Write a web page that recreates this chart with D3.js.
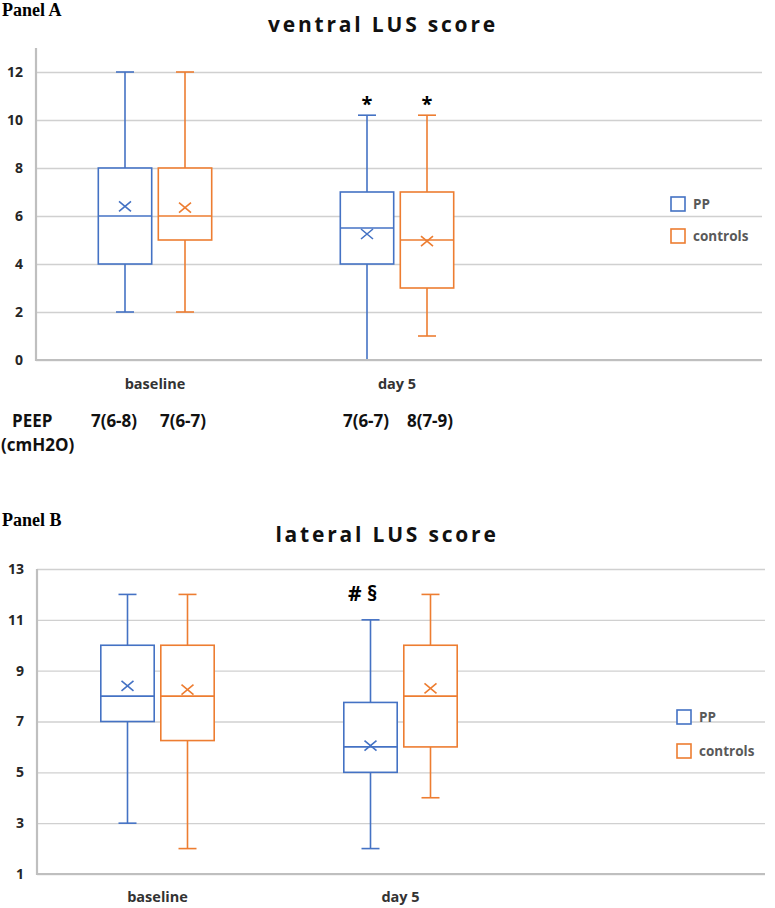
<!DOCTYPE html>
<html><head><meta charset="utf-8">
<script src="https://cdn.jsdelivr.net/npm/d3@7"></script>
<style>body{margin:0;background:#fff}svg{display:block}</style>
</head><body>
<svg id="c" width="775" height="908"></svg>
<script>
// ---- data ----
const categories = ["baseline", "day 5", ""];
const seriesNames = ["PP", "controls"];
// [min, q1, median, q3, max, mean] per category
const ventralPP = [[2, 4, 6, 8, 12, 6.4], [0, 4, 5.5, 7, 10.2, 5.25]];
const ventralControls = [[2, 5, 6, 8, 12, 6.35], [1, 3, 5, 7, 10.2, 4.95]];
const lateralPP = [[3, 7, 8, 10, 12, 8.4], [2, 5, 6, 7.75, 11, 6.05]];
const lateralControls = [[2, 6.25, 8, 10, 12, 8.25], [4, 6, 8, 10, 12, 8.3]];
const ventralTicks = [0, 2, 4, 6, 8, 10, 12];
const lateralTicks = [1, 3, 5, 7, 9, 11, 13];
const peepLabels = ["7(6-8)", "7(6-7)", "7(6-7)", "8(7-9)"];
const ventralMarks = [["*", 0, 1], ["*", 1, 1]]; // [text, series, category]
const lateralMarks = [["# §", 0, 1]];

const colors = {PP: "#4472C4", controls: "#ED7D31"};
const svg = d3.select("#c");
const sans = "'Open Sans', 'DejaVu Sans', sans-serif";

function panel(o) {
  const g = svg.append("g");
  const x = d3.scaleBand().domain(categories).range([o.x0, o.x1]);
  const inner = d3.scaleBand().domain(seriesNames).range([x.bandwidth()/2 - 60, x.bandwidth()/2 + 60]);
  const y = d3.scaleLinear().domain(o.domain).range([o.yb, o.yt]);

  // panel label
  g.append("text").attr("x", 2).attr("y", o.panelY).text(o.panelLabel)
    .attr("font-family", "'Liberation Serif', 'Times New Roman', serif").attr("font-weight", "bold")
    .attr("font-size", 18).attr("fill", "#000");
  // title
  g.append("text").attr("x", o.titleX).attr("y", o.titleY).attr("text-anchor", "middle")
    .text(o.title).attr("font-family", sans).attr("font-weight", "bold")
    .attr("font-size", 21).attr("letter-spacing", 2.8).attr("fill", "#111");

  // y axis + gridlines
  const ax = g.append("g").attr("transform", `translate(${o.gx0},0)`)
    .call(d3.axisLeft(y).tickValues(o.ticks).tickSize(-(o.gx1 - o.gx0)).tickPadding(13));
  ax.select(".domain").remove();
  ax.selectAll(".tick line").attr("stroke", "#D0D0D0").attr("stroke-width", 1.3);
  ax.selectAll(".tick text").attr("font-family", sans).attr("font-weight", "bold")
    .attr("font-size", 14).attr("fill", "#262626");

  // boxes
  const data = [[seriesNames[0], o.pp], [seriesNames[1], o.ctl]];
  data.forEach(([name, vals]) => {
    vals.forEach((v, ci) => {
      const [mn, q1, md, q3, mx, mean] = v;
      const cx = x(categories[ci]) + inner(name) + inner.bandwidth()/2;
      const bw = inner.bandwidth() * 0.89;
      const col = colors[name];
      const b = g.append("g").attr("stroke", col).attr("fill", "none").attr("stroke-width", 1.6);
      b.append("line").attr("x1", cx).attr("x2", cx).attr("y1", y(mx)).attr("y2", y(q3));
      b.append("line").attr("x1", cx).attr("x2", cx).attr("y1", y(q1)).attr("y2", y(mn));
      b.append("line").attr("x1", cx - 9).attr("x2", cx + 9).attr("y1", y(mx)).attr("y2", y(mx));
      b.append("line").attr("x1", cx - 9).attr("x2", cx + 9).attr("y1", y(mn)).attr("y2", y(mn));
      b.append("rect").attr("x", cx - bw/2).attr("width", bw).attr("y", y(q3)).attr("height", y(q1) - y(q3)).attr("fill", "#fff");
      b.append("line").attr("x1", cx - bw/2).attr("x2", cx + bw/2).attr("y1", y(md)).attr("y2", y(md));
      const my = y(mean);
      b.append("path").attr("d", `M${cx-6},${my-5}L${cx+6},${my+5}M${cx-6},${my+5}L${cx+6},${my-5}`);
    });
  });

  // axis lines
  g.append("line").attr("x1", o.gx0).attr("x2", o.gx0).attr("y1", o.axisTop).attr("y2", o.yb + 1)
    .attr("stroke", "#BFBFBF").attr("stroke-width", 2.2);
  g.append("line").attr("x1", o.gx0).attr("x2", o.gx1).attr("y1", o.yb).attr("y2", o.yb)
    .attr("stroke", "#BFBFBF").attr("stroke-width", 2.2);

  // category labels
  categories.forEach(c => {
    if (!c) return;
    g.append("text").attr("x", x(c) + x.bandwidth()/2).attr("y", o.yb + o.catDy)
      .attr("text-anchor", "middle").text(c).attr("font-family", sans)
      .attr("font-weight", "bold").attr("font-size", 14.5).attr("fill", "#333");
  });

  // significance marks
  o.marks.forEach(([t, si, ci]) => {
    const vals = si === 0 ? o.pp : o.ctl;
    const cx = x(categories[ci]) + inner(seriesNames[si]) + inner.bandwidth()/2;
    g.append("text").attr("x", cx + (o.markDx || 0)).attr("y", y(vals[ci][4]) + o.markDy)
      .attr("text-anchor", "middle").text(t).attr("font-family", o.markFont || sans)
      .attr("font-weight", "bold").attr("font-size", o.markSize || 20).attr("fill", "#000");
  });

  // legend
  seriesNames.forEach((n, i) => {
    const ly = o.legY + i * o.legStep;
    g.append("rect").attr("x", o.legX).attr("y", ly - 7).attr("width", 14).attr("height", 14)
      .attr("fill", "#fff").attr("stroke", colors[n]).attr("stroke-width", 1.6);
    g.append("text").attr("x", o.legX + 22).attr("y", ly + 5).text(n).attr("font-family", sans)
      .attr("font-weight", "bold").attr("font-size", 13.5).attr("fill", "#595959");
  });
  return {x, inner};
}

const pA = panel({
  panelLabel: "Panel A", panelY: 16, title: "ventral LUS score", titleX: 383, titleY: 32,
  x0: 34, x1: 760, gx0: 36, gx1: 762, domain: [0, 13], yb: 360, yt: 48, axisTop: 48,
  ticks: ventralTicks, pp: ventralPP, ctl: ventralControls, catDy: 29,
  marks: ventralMarks, markDy: -4, markSize: 20,
  legX: 671, legY: 204, legStep: 32
});

// PEEP row
const peepFont = {"font-family": sans, "font-weight": "bold", "font-size": 17, "fill": "#111"};
function styl(sel, s) { Object.entries(s).forEach(([k, v]) => sel.attr(k, v)); return sel; }
styl(svg.append("text").attr("x", 12).attr("y", 427).text("PEEP"), peepFont);
styl(svg.append("text").attr("x", 1).attr("y", 451).text("(cmH2O)"), peepFont);
const peepShift = [-11, -2, -1, 3];
[[0, 0], [1, 0], [0, 1], [1, 1]].forEach(([si, ci], i) => {
  const cx = pA.x(categories[ci]) + pA.inner(seriesNames[si]) + pA.inner.bandwidth()/2;
  styl(svg.append("text").attr("x", cx + peepShift[i]).attr("y", 427)
    .attr("text-anchor", "middle").text(peepLabels[i]), peepFont);
});

panel({
  panelLabel: "Panel B", panelY: 526, title: "lateral LUS score", titleX: 387, titleY: 542,
  x0: 36, x1: 765, gx0: 37, gx1: 765, domain: [1, 13], yb: 874, yt: 569, axisTop: 569,
  ticks: lateralTicks, pp: lateralPP, ctl: lateralControls, catDy: 28,
  marks: lateralMarks, markDy: -19, markDx: -8, markSize: 21,
  legX: 677, legY: 717, legStep: 34
});
</script>
</body></html>
